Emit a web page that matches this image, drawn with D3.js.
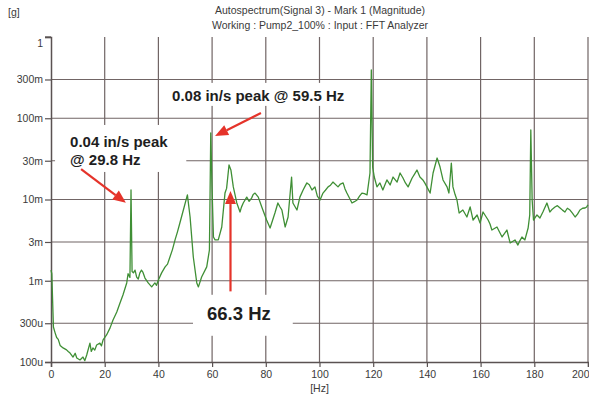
<!DOCTYPE html>
<html><head><meta charset="utf-8">
<script src="https://cdn.jsdelivr.net/npm/d3@7"></script>
<style>body{margin:0;background:#fff}svg{display:block}</style>
</head><body><svg id="c" width="589" height="400"></svg>
<script>
// ---- data ----
const freqHz = [0,0.3,0.9,1.5,2.1,2.7,3.4,4.5,5.8,6.4,7.1,8.2,9.0,9.6,10.8,11.9,12.6,13.3,14.5,15.0,15.6,16.3,17.0,18.2,18.8,19.4,20.7,22.0,23.1,24.5,25.7,26.8,28.2,28.7,29.4,29.8,30.2,30.7,31.3,31.9,32.5,33.1,33.7,34.2,35.0,36.2,37.5,38.7,39.3,40.0,41.2,42.5,43.4,44.3,45.2,46.2,47.1,48.0,49.3,50.8,51.8,53.0,54.3,54.9,56.1,58.0,59.0,59.5,60.0,60.5,61.1,62.3,63.6,64.8,65.4,66.3,67.0,67.9,69.2,70.4,70.9,71.6,72.9,73.8,74.7,75.3,76.0,77.2,78.5,80.3,81.6,83.4,84.5,85.2,86.0,87.2,88.3,89.6,90.1,91.6,92.7,93.9,94.6,95.3,96.2,97.2,98.3,99.2,100.2,101.3,102.2,103.2,104.1,105.0,106.9,107.8,108.8,109.5,110.2,111.1,112.1,113.0,114.0,114.9,115.8,116.7,117.7,118.8,119.3,119.8,120.4,121.4,122.5,123.6,124.3,125.1,126.3,127.4,128.9,130.0,131.1,132.0,133.0,134.5,135.4,136.3,137.4,138.5,139.2,140.0,141.2,142.3,143.8,144.9,146.0,147.5,148.2,149.1,149.7,150.5,151.2,152.0,153.4,154.9,156.1,157.2,158.7,159.8,160.9,162.8,163.5,164.2,166.1,167.0,168.0,169.8,170.4,171.0,172.8,173.9,174.6,175.4,176.5,177.7,178.3,178.7,179.2,179.7,180.3,181.0,182.1,183.2,184.7,185.8,186.7,187.7,188.6,189.6,190.5,191.4,192.3,193.3,194.2,195.2,196.1,197.0,198.0,198.9,199.5,200];
const ampMg = [1.35,1.22,0.27,0.23,0.20,0.19,0.16,0.149,0.141,0.135,0.129,0.115,0.128,0.112,0.106,0.115,0.104,0.122,0.171,0.135,0.149,0.140,0.162,0.171,0.158,0.187,0.215,0.263,0.329,0.412,0.532,0.668,0.94,1.22,1.10,13.1,1.30,1.25,1.35,1.11,1.05,1.25,1.35,1.28,1.08,0.94,0.84,0.94,0.88,1.02,1.25,1.48,1.6,1.96,2.4,3.18,4.0,5.14,7.42,11.4,6.09,1.96,0.94,0.84,1.11,1.48,2.39,65.8,13.1,3.46,3.18,3.18,4.59,12.0,13.7,26.6,23.1,14.3,9.06,7.02,8.0,9.06,10.7,9.5,10.4,11.5,12.0,10.7,8.09,5.59,4.46,6.82,9.06,8.2,7.42,4.59,6.09,18.9,9.06,7.42,10.7,13.1,14.5,16.0,15.2,13.1,14.3,11.0,9.86,12.0,13.0,14.3,15.0,16.4,14.3,15.5,16.0,13.5,12.0,10.5,9.06,9.4,9.86,11.0,12.0,11.8,11.4,21.2,393,25,18.9,14.3,16.0,13.1,15.0,17.4,15.1,18.9,16.4,21.2,18.4,16.0,14.3,18.4,20.5,23.1,18.9,17.4,16.0,14.3,12.0,21.2,32.4,25.1,17.4,14.3,12.0,28.1,14.3,11.5,9.86,6.82,7.42,6.09,8.09,5.59,6.45,5.14,7.02,5.59,5.0,4.21,4.59,4.0,3.46,4.21,3.5,2.92,3.18,2.75,3.1,3.46,3.18,4.46,6.45,71.7,9.86,5.59,6.0,6.45,5.92,7.02,9.06,7.02,7.6,8.09,8.4,7.86,7.4,7.02,7.8,7.42,6.8,6.09,6.6,7.42,7.8,7.86,8.1,8.56];
const xTickValues = [0,20,40,60,80,100,120,140,160,180,200];
const yTickValues = [1e-4,3e-4,1e-3,3e-3,1e-2,3e-2,1e-1,3e-1,1];
const yTickLabels = ["100u","300u","1m","3m","10m","30m","100m","300m","1"];
const titleLines = ["Autospectrum(Signal 3) - Mark 1 (Magnitude)","Working : Pump2_100% : Input : FFT Analyzer"];
const yUnit = "[g]";
const xUnit = "[Hz]";
// annotations: text lines, text anchor (Hz, mg), arrow start/end (Hz, mg)
const noteTexts = [["0.04 in/s peak","@ 29.8 Hz"],["0.08 in/s peak @ 59.5 Hz"],["66.3 Hz"]];
const noteAnchors = [[7.1,49.6],[45.1,183],[58.1,0.38]];
const arrowFrom = [[11.2,23.7],[78.2,116],[66.85,0.74]];
const arrowTo = [[27.9,9.1],[61.1,60.5],[66.85,12.7]];

// ---- chart ----
const svg = d3.select("#c");
const W = 589, H = 400;
const m = {left:51, right:1, top:37, bottom:38};
const x = d3.scaleLinear().domain([0,200]).range([m.left, W-m.right]);
const y = d3.scaleLog().domain([1e-4,1]).range([H-m.bottom, m.top]);
const gridColor = "#716565", axisColor = "#5a5252", labColor = "#3a3a3a";
const font = "'Liberation Sans', Arial, sans-serif";

// grid
svg.append("g").selectAll("line.v").data(xTickValues.filter(d=>d>0)).join("line")
  .attr("x1",d=>x(d)).attr("x2",d=>x(d)).attr("y1",y(1)).attr("y2",y(1e-4))
  .attr("stroke",gridColor).attr("stroke-width",1.2);
svg.append("g").selectAll("line.h").data(yTickValues.filter(d=>d>1e-4 && d<1)).join("line")
  .attr("x1",x(0)).attr("x2",x(200)).attr("y1",d=>y(d)).attr("y2",d=>y(d))
  .attr("stroke",gridColor).attr("stroke-width",1.2);

// axes
const xAxis = d3.axisBottom(x).tickValues(xTickValues).tickSize(5).tickPadding(4).tickFormat(d3.format("d"));
const gx = svg.append("g").attr("transform",`translate(0,${y(1e-4)})`).call(xAxis);
const yAxis = d3.axisLeft(y).tickValues(yTickValues).tickSize(6).tickPadding(2).tickFormat((d,i)=>yTickLabels[i]);
const gy = svg.append("g").attr("transform",`translate(${x(0)},0)`).call(yAxis);
[gx,gy].forEach(g=>{
  g.select(".domain").attr("stroke",axisColor).attr("stroke-width",1.5);
  g.selectAll(".tick line").attr("stroke",axisColor).attr("stroke-width",1.2);
  g.selectAll("text").attr("fill",labColor).style("font-family",font).style("font-size","10.5px");
});
gy.selectAll(".tick").filter(d=>d===1).select("text").attr("dy","0.9em");
gx.selectAll(".tick").filter(d=>d===200).select("text").attr("text-anchor","end").attr("dx","1");
// small bracket at top of y axis
svg.append("line").attr("x1",x(0)-6).attr("x2",x(0)).attr("y1",y(1)).attr("y2",y(1))
  .attr("stroke",axisColor).attr("stroke-width",1.2);

// titles
svg.append("g").selectAll("text").data(titleLines).join("text")
  .attr("x",320).attr("y",(d,i)=>14+i*15).attr("text-anchor","middle")
  .attr("fill",labColor).style("font-family",font).style("font-size","10.5px").text(d=>d);
svg.append("text").attr("x",8).attr("y",16).attr("fill",labColor)
  .style("font-family",font).style("font-size","10.5px").text(yUnit);
svg.append("text").attr("x",x(100)).attr("y",392).attr("text-anchor","middle").attr("fill",labColor)
  .style("font-family",font).style("font-size","10.5px").text(xUnit);

// annotation boxes + text
const noteSizes = [15,15,18.5];
const noteG = svg.append("g");
const textNodes = noteTexts.map((lines,i)=>{
  const t = noteG.append("text").attr("x",x(noteAnchors[i][0])).attr("y",y(noteAnchors[i][1]/1000))
    .style("font-family",font).style("font-weight","bold").style("font-size",noteSizes[i]+"px")
    .attr("fill","#1e1e1e").attr("dominant-baseline","middle");
  lines.forEach((l,j)=>t.append("tspan").attr("x",x(noteAnchors[i][0])).attr("dy",j?"1.2em":0).text(l));
  return t;
});
const pads = [[15,8,18,4],[12,4,10,2],[14,8,22,12]]; // left, top, right, bottom
textNodes.forEach((t,i)=>{
  const b = t.node().getBBox();
  noteG.insert("rect",":first-child").attr("x",b.x-pads[i][0]).attr("y",b.y-pads[i][1])
    .attr("width",b.width+pads[i][0]+pads[i][2]).attr("height",b.height+pads[i][1]+pads[i][3])
    .attr("fill","#fff");
});

// spectrum line
const pts = freqHz.map((f,i)=>[f, ampMg[i]/1000]);
svg.append("path").datum(pts)
  .attr("d",d3.line().x(d=>x(d[0])).y(d=>y(d[1])))
  .attr("fill","none").attr("stroke","#3f8f35").attr("stroke-width",1.3).attr("stroke-linejoin","round");

// arrows
const red = "#e5332a";
arrowFrom.forEach((a,i)=>{
  const x1=x(a[0]), y1=y(a[1]/1000), x2=x(arrowTo[i][0]), y2=y(arrowTo[i][1]/1000);
  const ang=Math.atan2(y2-y1,x2-x1), L=13, Wd=5.5;
  const bx=x2-L*Math.cos(ang), by=y2-L*Math.sin(ang);
  svg.append("line").attr("x1",x1).attr("y1",y1).attr("x2",bx).attr("y2",by)
    .attr("stroke",red).attr("stroke-width",2.2);
  const px=-Math.sin(ang), py=Math.cos(ang);
  svg.append("polygon").attr("points",[[x2,y2],[bx+px*Wd,by+py*Wd],[bx-px*Wd,by-py*Wd]].map(p=>p.join(",")).join(" "))
    .attr("fill",red);
});
</script></body></html>
